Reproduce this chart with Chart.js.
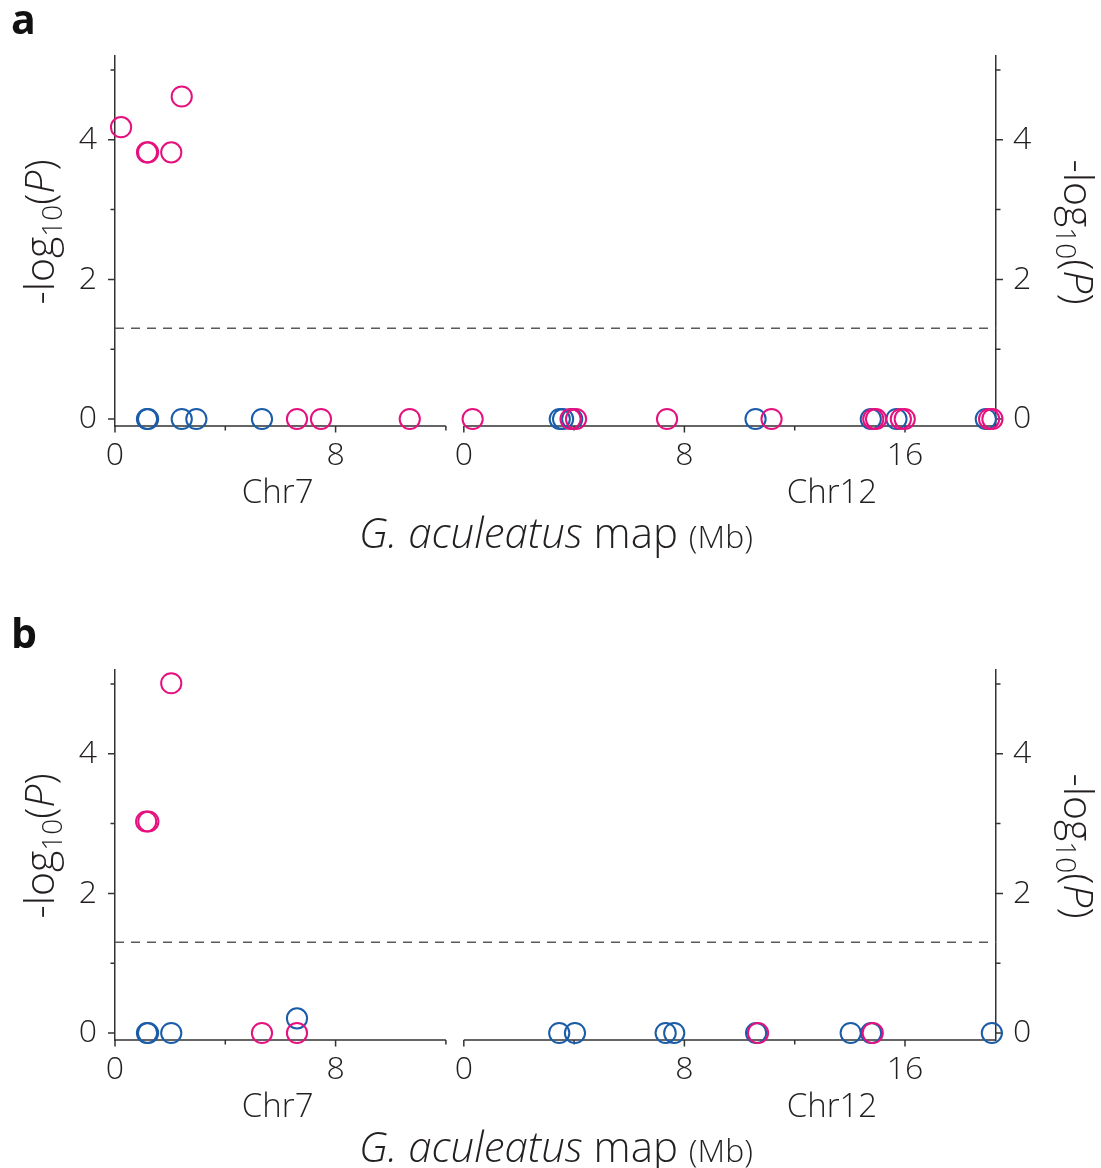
<!DOCTYPE html>
<html lang="en">
<head>
    <meta charset="UTF-8">
    <title>Association along Chr7 and Chr12</title>
    <script src="https://cdn.jsdelivr.net/npm/chart.js"></script>
    <style>
        body { margin: 0; background: #fff; overflow: hidden; }
        canvas { display: block; }
    </style>
</head>
<body>
    <canvas id="chartA" width="1101" height="614"></canvas>
    <canvas id="chartB" width="1101" height="554"></canvas>

    <script>
        // axis setup
        const chrNames = ['Chr7', 'Chr12'];
        const chrLengthMb = [12, 19.3];
        const chrGapMb = 0.65;
        const xMajorMb = [0, 8, 16];
        const xMinorMb = [4, 12];
        const chrLabelMb = [5.9, 13.35];
        const yMajor = [0, 2, 4];
        const yMinor = [1, 3, 5];
        const yMin = -0.1, yMax = 5.2;
        const threshold = 1.30; // -log10(0.05)

        // panel a
        const aPinkChr7Mb = [0.22, 1.16, 1.20, 2.04, 2.42, 6.60, 7.47, 10.69];
        const aPinkChr7P = [4.18, 3.82, 3.82, 3.82, 4.62, 0, 0, 0];
        const aBlueChr7Mb = [1.16, 1.20, 2.42, 2.95, 5.33];
        const aBlueChr7P = [0, 0, 0, 0, 0];
        const aPinkChr12Mb = [0.32, 3.87, 4.07, 7.37, 11.16, 14.85, 14.95, 15.85, 15.99, 19.05, 19.17];
        const aPinkChr12P = [0, 0, 0, 0, 0, 0, 0, 0, 0, 0, 0];
        const aBlueChr12Mb = [3.48, 3.60, 3.93, 10.58, 14.76, 15.69, 18.93];
        const aBlueChr12P = [0, 0, 0, 0, 0, 0, 0];

        // panel b
        const bPinkChr7Mb = [1.13, 1.21, 2.04, 5.33, 6.60];
        const bPinkChr7P = [3.03, 3.03, 5.01, 0, 0];
        const bBlueChr7Mb = [1.16, 1.20, 2.04, 6.60];
        const bBlueChr7P = [0, 0, 0, 0.21];
        const bPinkChr12Mb = [10.67, 14.83];
        const bPinkChr12P = [0, 0];
        const bBlueChr12Mb = [3.46, 4.03, 7.32, 7.63, 10.60, 14.03, 14.77, 19.15];
        const bBlueChr12P = [0, 0, 0, 0, 0, 0, 0, 0];

        const PINK = '#e5117f';
        const BLUE = '#1a5ca8';
        const INK = '#231f20';
        const FONT = '"Open Sans", sans-serif';
        const W = 350; // text weight

        const chrOffset = [0, chrLengthMb[0] + chrGapMb];

        function toPoints(mb7, p7, mb12, p12) {
            return mb7.map((x, i) => ({x: chrOffset[0] + x, y: p7[i]}))
                .concat(mb12.map((x, i) => ({x: chrOffset[1] + x, y: p12[i]})));
        }

        function xTicks(list) {
            const out = [];
            chrNames.forEach((_, c) => list.forEach(v => {
                if (v <= chrLengthMb[c]) out.push(chrOffset[c] + v);
            }));
            return out;
        }

        // text made of pieces with different fonts, centred on its origin
        function drawPieces(ctx, parts, x, y, angle) {
            let total = 0;
            parts.forEach(p => { ctx.font = p.f; p.w = ctx.measureText(p.t).width; total += p.w; });
            ctx.save();
            ctx.translate(x, y);
            ctx.rotate(angle);
            ctx.fillStyle = INK;
            ctx.textBaseline = 'alphabetic';
            ctx.textAlign = 'left';
            let cx = -total / 2;
            parts.forEach(p => { ctx.font = p.f; ctx.fillText(p.t, cx, p.dy || 0); cx += p.w; });
            ctx.restore();
        }

        const logP = [
            {t: '-log', f: `${W} 41px ${FONT}`},
            {t: '10', f: `${W} 28px ${FONT}`, dy: 8},
            {t: '(', f: `${W} 41px ${FONT}`},
            {t: 'P', f: `italic ${W} 41px ${FONT}`},
            {t: ')', f: `${W} 41px ${FONT}`}
        ];
        const xTitle = [
            {t: 'G. aculeatus', f: `italic ${W} 42px ${FONT}`},
            {t: ' map ', f: `${W} 42px ${FONT}`},
            {t: '(Mb)', f: `${W} 32px ${FONT}`}
        ];

        const splitAxis = {
            id: 'splitAxis',
            beforeDatasetsDraw(chart) {
                const {ctx, chartArea: a, scales: {x, y}} = chart;
                ctx.save();
                // threshold line
                const ty = y.getPixelForValue(threshold);
                ctx.strokeStyle = '#5a5a5a';
                ctx.lineWidth = 1.5;
                ctx.setLineDash([9, 7]);
                ctx.beginPath();
                ctx.moveTo(a.left, ty);
                ctx.lineTo(a.right, ty);
                ctx.stroke();
                ctx.setLineDash([]);

                // broken x axis
                ctx.strokeStyle = '#333';
                ctx.beginPath();
                chrNames.forEach((_, c) => {
                    ctx.moveTo(x.getPixelForValue(chrOffset[c]), a.bottom);
                    ctx.lineTo(x.getPixelForValue(chrOffset[c] + chrLengthMb[c]), a.bottom);
                });
                xTicks(xMajorMb).forEach(v => {
                    const px = x.getPixelForValue(v);
                    ctx.moveTo(px, a.bottom); ctx.lineTo(px, a.bottom + 6.5);
                });
                xTicks(xMinorMb).forEach(v => {
                    const px = x.getPixelForValue(v);
                    ctx.moveTo(px, a.bottom); ctx.lineTo(px, a.bottom + 4.5);
                });
                // y ticks, both sides
                [[yMajor, 7], [yMinor, 4.5]].forEach(([vals, len]) => vals.forEach(v => {
                    const py = y.getPixelForValue(v);
                    ctx.moveTo(a.left, py); ctx.lineTo(a.left - len, py);
                    ctx.moveTo(a.right, py); ctx.lineTo(a.right + len, py);
                }));
                ctx.stroke();
                ctx.restore();
            },
            afterDraw(chart) {
                const {ctx, chartArea: a, scales: {x, y}} = chart;
                const midY = y.getPixelForValue((yMin + yMax) / 2) - 9;
                drawPieces(ctx, logP, 54, midY, -Math.PI / 2);
                drawPieces(ctx, logP, 1064, midY, Math.PI / 2);
                ctx.save();
                ctx.fillStyle = INK;
                ctx.font = `${W} 33px ${FONT}`;
                ctx.textAlign = 'center';
                ctx.textBaseline = 'alphabetic';
                chrNames.forEach((name, c) => {
                    ctx.fillText(name, x.getPixelForValue(chrOffset[c] + chrLabelMb[c]), a.bottom + 77);
                });
                ctx.font = `bold 41px ${FONT}`;
                ctx.textAlign = 'left';
                ctx.fillStyle = '#111';
                ctx.fillText(chart.options.plugins.splitAxis.letter, 11, 34);
                ctx.restore();
                drawPieces(ctx, xTitle, 556, a.bottom + 122, 0);
            }
        };

        function makeChart(id, pink, blue, letter) {
            const canvas = document.getElementById(id);
            const tickFont = {family: FONT, size: 32, weight: W};
            return new Chart(canvas, {
                type: 'scatter',
                data: {
                    datasets: [
                        {data: pink, borderColor: PINK},
                        {data: blue, borderColor: BLUE}
                    ].map(d => Object.assign(d, {
                        backgroundColor: 'rgba(0,0,0,0)',
                        pointRadius: 10.1,
                        pointBorderWidth: 2,
                        pointHoverRadius: 10.1,
                        clip: false
                    }))
                },
                options: {
                    responsive: false,
                    animation: false,
                    devicePixelRatio: 1,
                    layout: {padding: {top: 56, left: 0, right: 0, bottom: 0}},
                    plugins: {
                        legend: {display: false},
                        tooltip: {enabled: false},
                        splitAxis: {letter: letter}
                    },
                    scales: {
                        x: {
                            type: 'linear',
                            min: 0,
                            max: chrOffset[1] + chrLengthMb[1],
                            grid: {display: false, drawTicks: false},
                            border: {display: false},
                            afterBuildTicks: s => { s.ticks = xTicks(xMajorMb).map(v => ({value: v})); },
                            afterFit: s => { s.height = s.chart.height - 56 - 370; },
                            ticks: {
                                autoSkip: false,
                                maxRotation: 0,
                                padding: 11,
                                color: INK,
                                font: tickFont,
                                callback: v => String(Math.round(v >= chrOffset[1] ? v - chrOffset[1] : v))
                            }
                        },
                        y: {
                            position: 'left',
                            min: yMin,
                            max: yMax,
                            grid: {display: false, drawTicks: false},
                            border: {display: true, color: '#333', width: 1.5},
                            afterBuildTicks: s => { s.ticks = yMajor.map(v => ({value: v})); },
                            afterFit: s => { s.width = 115; },
                            ticks: {padding: 18, color: INK, font: tickFont}
                        },
                        y2: {
                            position: 'right',
                            min: yMin,
                            max: yMax,
                            grid: {display: false, drawTicks: false},
                            border: {display: true, color: '#333', width: 1.5},
                            afterBuildTicks: s => { s.ticks = yMajor.map(v => ({value: v})); },
                            afterFit: s => { s.width = 105; },
                            ticks: {padding: 17, color: INK, font: tickFont}
                        }
                    }
                },
                plugins: [splitAxis]
            });
        }

        makeChart('chartA',
            toPoints(aPinkChr7Mb, aPinkChr7P, aPinkChr12Mb, aPinkChr12P),
            toPoints(aBlueChr7Mb, aBlueChr7P, aBlueChr12Mb, aBlueChr12P), 'a');
        makeChart('chartB',
            toPoints(bPinkChr7Mb, bPinkChr7P, bPinkChr12Mb, bPinkChr12P),
            toPoints(bBlueChr7Mb, bBlueChr7P, bBlueChr12Mb, bBlueChr12P), 'b');
    </script>
</body>
</html>
